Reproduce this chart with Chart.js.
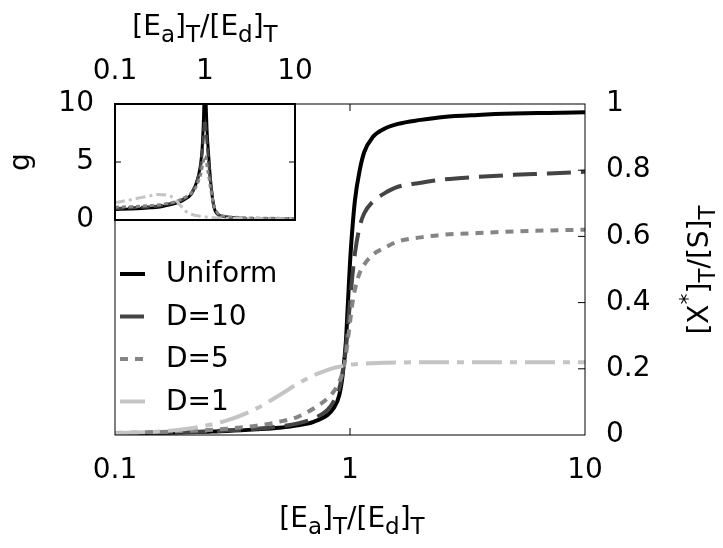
<!DOCTYPE html>
<html>
<head>
<meta charset="utf-8">
<script src="https://cdn.jsdelivr.net/npm/chart.js@4/dist/chart.umd.min.js"></script>
<style>
  html, body { margin: 0; padding: 0; background: #fff; }
  #wrap { position: relative; width: 723px; height: 548px; }
  #main, #inset { position: absolute; left: 0; top: 0; }
</style>
</head>
<body>
<div id="wrap">
  <canvas id="main" width="723" height="548" style="width:723px;height:548px"></canvas>
  <canvas id="inset" width="340" height="235" style="width:340px;height:235px"></canvas>
</div>
<script>
/* global Chart */

// [Ea]T/[Ed]T values shared by all curves
const ratio = [0.1, 0.15, 0.2, 0.25, 0.3, 0.4, 0.5, 0.6, 0.7, 0.8, 0.85, 0.9, 0.93, 0.96, 0.98,
  1.0, 1.02, 1.05, 1.1, 1.15, 1.25, 1.4, 1.6, 2, 2.5, 3.5, 5, 7, 10];

// main plot: [X*]T/[S]T
const xUniform = [0.004, 0.006, 0.008, 0.01, 0.012, 0.017, 0.022, 0.029, 0.04, 0.06, 0.08, 0.12, 0.18, 0.28, 0.40,
  0.52, 0.61, 0.71, 0.80, 0.855, 0.90, 0.925, 0.94, 0.952, 0.961, 0.967, 0.971, 0.973, 0.975];
const xD10 = [0.005, 0.007, 0.009, 0.011, 0.014, 0.019, 0.026, 0.035, 0.05, 0.075, 0.1, 0.14, 0.19, 0.26, 0.33,
  0.40, 0.47, 0.55, 0.63, 0.67, 0.705, 0.73, 0.75, 0.762, 0.772, 0.78, 0.786, 0.79, 0.795];
const xD5 = [0.006, 0.009, 0.012, 0.015, 0.019, 0.028, 0.04, 0.055, 0.08, 0.11, 0.13, 0.16, 0.19, 0.24, 0.29,
  0.34, 0.39, 0.44, 0.49, 0.515, 0.545, 0.565, 0.585, 0.597, 0.605, 0.61, 0.615, 0.618, 0.62];
const xD1 = [0.005, 0.01, 0.018, 0.03, 0.044, 0.08, 0.12, 0.155, 0.18, 0.196, 0.202, 0.206, 0.208, 0.21, 0.211,
  0.212, 0.213, 0.214, 0.215, 0.216, 0.217, 0.218, 0.219, 0.22, 0.22, 0.22, 0.22, 0.22, 0.22];

// inset: g
const gUniform = [0.9, 0.95, 1.0, 1.05, 1.1, 1.3, 1.5, 1.8, 2.2, 3.2, 3.9, 5.0, 6.2, 8.5, 11,
  13, 11, 8, 5.5, 3.5, 1.2, 0.45, 0.3, 0.2, 0.15, 0.12, 0.1, 0.1, 0.1];
const gD10 = [1.0, 1.05, 1.1, 1.15, 1.2, 1.4, 1.6, 1.9, 2.3, 3.2, 3.8, 4.8, 5.8, 7.2, 8.2,
  8.6, 8.0, 6.8, 5.0, 3.4, 1.3, 0.5, 0.3, 0.2, 0.16, 0.13, 0.12, 0.11, 0.1];
const gD5 = [1.1, 1.15, 1.2, 1.25, 1.3, 1.45, 1.65, 1.95, 2.3, 2.9, 3.4, 4.0, 4.6, 5.1, 5.4,
  5.5, 5.3, 4.7, 3.8, 2.8, 1.3, 0.55, 0.35, 0.25, 0.2, 0.17, 0.15, 0.14, 0.13];
const gD1 = [1.5, 1.75, 1.95, 2.1, 2.2, 2.1, 1.5, 0.8, 0.5, 0.38, 0.35, 0.32, 0.3, 0.29, 0.28,
  0.27, 0.26, 0.25, 0.24, 0.22, 0.2, 0.18, 0.16, 0.14, 0.13, 0.12, 0.11, 0.1, 0.1];

const labels = ['Uniform', 'D=10', 'D=5', 'D=1'];
const xTicks = [0.1, 1, 10];
const yTicksMain = [0, 0.2, 0.4, 0.6, 0.8, 1];
const yTicksInset = [0, 5, 10];

const FONT = '"DejaVu Sans", Arial, sans-serif';
Chart.defaults.font.family = FONT;
Chart.defaults.font.size = 28;
Chart.defaults.color = '#000';

const colors = ['#000000', '#444444', '#858585', '#c4c4c4'];
const mainDash = [[], [24, 10], [8, 7], [30, 8, 7, 8]];
const insetDash = [[], [9, 4], [4, 3], [10, 4, 3, 4]];

function series(x, y) {
  return x.map((v, i) => ({ x: v, y: y[i] }));
}

// no extra room for half labels at the axis ends
function noEndPadding(s) {
  s.paddingLeft = 0;
  s.paddingRight = 0;
  s.paddingTop = 0;
  s.paddingBottom = 0;
}

// text with sub/superscripts: kind 0 normal, 1 sub, 2 sup
function drawRich(ctx, parts, cx, cy, rot) {
  const fonts = ['28px ' + FONT, '23px ' + FONT, '22px ' + FONT];
  const shift = [0, 7, -13];
  ctx.save();
  ctx.translate(cx, cy);
  ctx.rotate(rot);
  ctx.fillStyle = '#000';
  ctx.textAlign = 'left';
  ctx.textBaseline = 'alphabetic';
  let w = 0;
  parts.forEach(p => { ctx.font = fonts[p[1]]; w += ctx.measureText(p[0]).width; });
  let x = -w / 2;
  parts.forEach(p => {
    ctx.font = fonts[p[1]];
    ctx.fillText(p[0], x, shift[p[1]]);
    x += ctx.measureText(p[0]).width;
  });
  ctx.restore();
}

const ratioTitle = [['[E', 0], ['a', 1], [']', 0], ['T', 1], ['/[E', 0], ['d', 1], [']', 0], ['T', 1]];
const fracTitle = [['[X', 0], ['*', 2], [']', 0], ['T', 1], ['/[S]', 0], ['T', 1]];

// box around plot area plus small inward ticks
function framePlugin(lineWidth, xInner, yInner, len, bothSides) {
  return {
    id: 'frame',
    beforeDraw(chart) {
      const { ctx, chartArea: a } = chart;
      ctx.save();
      ctx.fillStyle = '#fff';
      ctx.fillRect(a.left, a.top, a.right - a.left, a.bottom - a.top);
      ctx.restore();
    },
    afterDatasetsDraw(chart) {
      const { ctx, chartArea: a, scales } = chart;
      ctx.save();
      ctx.strokeStyle = '#000';
      ctx.lineWidth = lineWidth;
      ctx.strokeRect(a.left, a.top, a.right - a.left, a.bottom - a.top);
      ctx.lineWidth = 1;
      ctx.beginPath();
      xInner.forEach(v => {
        const px = scales.x.getPixelForValue(v);
        ctx.moveTo(px, a.bottom); ctx.lineTo(px, a.bottom - len);
        ctx.moveTo(px, a.top); ctx.lineTo(px, a.top + len);
      });
      yInner.forEach(v => {
        const py = scales.y.getPixelForValue(v);
        if (bothSides) { ctx.moveTo(a.left, py); ctx.lineTo(a.left + len, py); }
        ctx.moveTo(a.right, py); ctx.lineTo(a.right - len, py);
      });
      ctx.stroke();
      ctx.restore();
    }
  };
}

const legendPlugin = {
  id: 'insideLegend',
  afterDatasetsDraw(chart) {
    const { ctx, chartArea: a } = chart;
    chart.data.datasets.forEach((ds, i) => {
      const y = a.top + 170 + i * 42.5;
      ctx.save();
      ctx.strokeStyle = ds.borderColor;
      ctx.lineWidth = ds.borderWidth;
      ctx.setLineDash(ds.borderDash);
      ctx.beginPath();
      ctx.moveTo(a.left + 5, y);
      ctx.lineTo(a.left + 30, y);
      ctx.stroke();
      ctx.font = '28px ' + FONT;
      ctx.fillStyle = '#000';
      ctx.textBaseline = 'middle';
      ctx.fillText(ds.label, a.left + 51, y + 1);
      ctx.restore();
    });
  }
};

const mainTitles = {
  id: 'mainTitles',
  afterDraw(chart) {
    const { ctx, chartArea: a } = chart;
    drawRich(ctx, ratioTitle, (a.left + a.right) / 2 + 2, 527, 0);
    drawRich(ctx, fracTitle, 708, 270, -Math.PI / 2);
  }
};

const insetTitle = {
  id: 'insetTitle',
  afterDraw(chart) {
    const { ctx, chartArea: a } = chart;
    drawRich(ctx, ratioTitle, (a.left + a.right) / 2, 35, 0);
  }
};

const ys = [xUniform, xD10, xD5, xD1];
const gs = [gUniform, gD10, gD5, gD1];

new Chart(document.getElementById('main'), {
  type: 'line',
  data: {
    datasets: labels.map((lab, i) => ({
      label: lab,
      data: series(ratio, ys[i]),
      borderColor: colors[i],
      borderWidth: 4,
      borderDash: mainDash[i],
      order: 4 - i
    }))
  },
  options: {
    responsive: false,
    animation: false,
    layout: { padding: { left: 115, top: 104, right: 0, bottom: 0 } },
    elements: {
      point: { radius: 0 },
      line: { cubicInterpolationMode: 'monotone', fill: false }
    },
    plugins: { legend: { display: false }, tooltip: { enabled: false } },
    scales: {
      x: {
        type: 'logarithmic', position: 'bottom', min: 0.1, max: 10,
        afterBuildTicks: s => { s.ticks = xTicks.map(v => ({ value: v })); },
        afterFit: s => { s.height = 113; noEndPadding(s); },
        ticks: { callback: v => String(v), padding: 19, maxRotation: 0, autoSkip: false },
        grid: { display: false, drawTicks: false },
        border: { display: false }
      },
      y: {
        type: 'linear', position: 'right', min: 0, max: 1,
        afterBuildTicks: s => { s.ticks = yTicksMain.map(v => ({ value: v })); },
        afterFit: s => { s.width = 138; noEndPadding(s); },
        ticks: { callback: v => String(v), padding: 21 },
        grid: { display: false, drawTicks: false },
        border: { display: false }
      }
    }
  },
  plugins: [framePlugin(1, [1], [0.2, 0.4, 0.6, 0.8], 7, false), legendPlugin, mainTitles]
});

new Chart(document.getElementById('inset'), {
  type: 'line',
  data: {
    datasets: labels.map((lab, i) => ({
      label: lab,
      data: series(ratio, gs[i]),
      borderColor: colors[i],
      borderWidth: 3,
      borderDash: insetDash[i],
      order: 4 - i
    }))
  },
  options: {
    responsive: false,
    animation: false,
    layout: { padding: { left: 0, top: 0, right: 45, bottom: 15 } },
    elements: {
      point: { radius: 0 },
      line: { cubicInterpolationMode: 'monotone', fill: false }
    },
    plugins: { legend: { display: false }, tooltip: { enabled: false } },
    scales: {
      x: {
        type: 'logarithmic', position: 'top', min: 0.1, max: 10,
        afterBuildTicks: s => { s.ticks = xTicks.map(v => ({ value: v })); },
        afterFit: s => { s.height = 104; noEndPadding(s); },
        ticks: { callback: v => String(v), padding: 15, maxRotation: 0, autoSkip: false },
        grid: { display: false, drawTicks: false },
        border: { display: false }
      },
      y: {
        type: 'linear', position: 'left', min: 0, max: 10,
        afterBuildTicks: s => { s.ticks = yTicksInset.map(v => ({ value: v })); },
        afterFit: s => { s.width = 115; noEndPadding(s); },
        ticks: { callback: v => String(v), padding: 21 },
        title: { display: true, text: 'g', padding: { top: 5, bottom: 0 } },
        grid: { display: false, drawTicks: false },
        border: { display: false }
      }
    }
  },
  plugins: [framePlugin(2, [], [5], 6, true), insetTitle]
});
</script>
</body>
</html>
